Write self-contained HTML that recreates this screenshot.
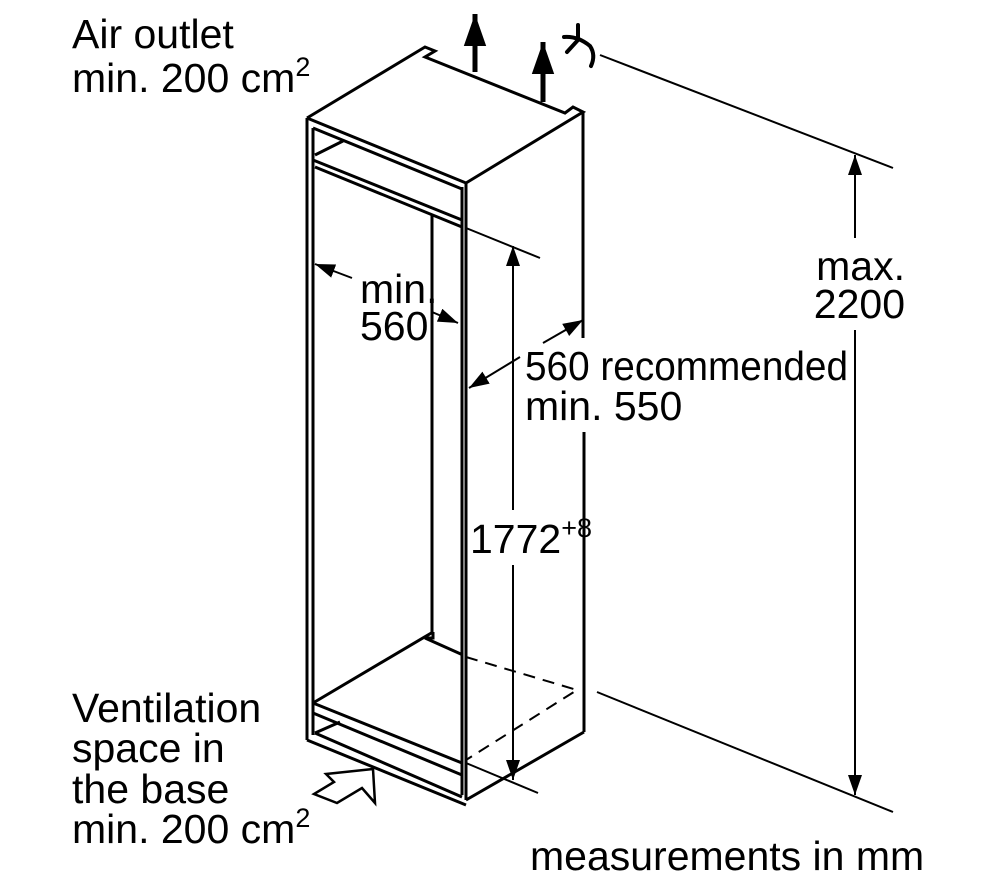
<!DOCTYPE html>
<html><head><style>
html,body{margin:0;padding:0;background:#fff;}
svg{display:block;}
text{font-family:"Liberation Sans",sans-serif;font-size:41px;fill:#000;}
</style></head><body>
<svg width="1000" height="887" viewBox="0 0 1000 887" xmlns="http://www.w3.org/2000/svg">
<defs>
<marker id="a" viewBox="0 0 10 10" refX="10" refY="5" markerWidth="20" markerHeight="20" markerUnits="userSpaceOnUse" orient="auto"><path d="M0,1.5 L10,5 L0,8.5 Z" fill="#000"/></marker>
<marker id="b" viewBox="0 0 10 10" refX="10" refY="5" markerWidth="32" markerHeight="32" markerUnits="userSpaceOnUse" orient="auto"><path d="M0,1.5 L10,5 L0,8.5 Z" fill="#000"/></marker>
</defs>
<g stroke="#000" stroke-width="3" fill="none" stroke-linejoin="miter">
<polyline points="307,118 425,47 435,51 425,57 565,113 573,107 583,112 466,183 307,118"/>
<line x1="307" y1="118" x2="307" y2="740"/>
<line x1="466" y1="183" x2="466" y2="800"/>
<line x1="583" y1="112" x2="583" y2="338"/>
<line x1="584" y1="432" x2="584" y2="732"/>
<line x1="584" y1="732" x2="466" y2="800"/>
<line x1="307" y1="740" x2="466" y2="805"/>
<line x1="313" y1="128" x2="313" y2="735"/>
<line x1="462" y1="187" x2="462" y2="795"/>
<line x1="313" y1="128" x2="462" y2="189"/>
<line x1="313" y1="160" x2="462" y2="220"/>
<line x1="315" y1="167" x2="462" y2="227"/>
<line x1="315" y1="155" x2="343" y2="141"/>
<line x1="313" y1="703" x2="433" y2="632"/>
<polyline points="433,632 433,638 425,638 463,655"/>
<line x1="313" y1="703" x2="462" y2="763"/>
<line x1="313" y1="713" x2="462" y2="775"/>
<line x1="315" y1="733" x2="462" y2="797"/>
<line x1="315" y1="733" x2="340" y2="722"/>
<line x1="432" y1="215" x2="432" y2="632"/>
</g>
<g stroke="#000" stroke-width="2" fill="none">
<polyline points="466,657 577,690 466,760" stroke-dasharray="12,8"/>
<line x1="466" y1="228" x2="540" y2="258"/>
<line x1="466" y1="763" x2="538" y2="793"/>
<line x1="600" y1="55" x2="893" y2="168"/>
<line x1="597" y1="692" x2="893" y2="812"/>
<line x1="513" y1="510" x2="513" y2="246" marker-end="url(#a)"/>
<line x1="513" y1="565" x2="513" y2="780" marker-end="url(#a)"/>
<line x1="855" y1="238" x2="855" y2="155" marker-end="url(#a)"/>
<line x1="855" y1="330" x2="855" y2="795" marker-end="url(#a)"/>
<line x1="352" y1="278" x2="315" y2="264" marker-end="url(#a)"/>
<line x1="432" y1="312" x2="458" y2="323" marker-end="url(#a)"/>
<line x1="543" y1="343" x2="583" y2="320" marker-end="url(#a)"/>
<line x1="520" y1="357" x2="469" y2="388" marker-end="url(#a)"/>
<polygon points="326,774 373,769 375,803 362,788 337,803 314,794 334,782" stroke-width="2.5"/>
</g>
<g stroke="#000" stroke-width="4" fill="none" stroke-linecap="round">
<path d="M564,37 Q578,36 590,46 Q596,55 591,66"/>
<path d="M578,25 L578,40 L567,52"/>
</g>
<g stroke="#000" stroke-width="5">
<line x1="475" y1="72" x2="475" y2="14" marker-end="url(#b)"/>
<line x1="543" y1="102" x2="543" y2="42" marker-end="url(#b)"/>
</g>
<text x="72" y="48">Air outlet</text>
<text x="72" y="92">min. 200 cm<tspan font-size="27" dy="-16">2</tspan></text>
<text x="905" y="280" text-anchor="end">max.</text>
<text x="905" y="318" text-anchor="end">2200</text>
<text x="360" y="303">min.</text>
<text x="360" y="340">560</text>
<text x="525" y="380" textLength="323" lengthAdjust="spacingAndGlyphs">560 recommended</text>
<text x="525" y="420">min. 550</text>
<text x="470" y="553">1772<tspan font-size="27" dy="-16">+8</tspan></text>
<text x="72" y="722">Ventilation</text>
<text x="72" y="762">space in</text>
<text x="72" y="803">the base</text>
<text x="72" y="843">min. 200 cm<tspan font-size="27" dy="-16">2</tspan></text>
<text x="530" y="870">measurements in mm</text>
</svg>
</body></html>
